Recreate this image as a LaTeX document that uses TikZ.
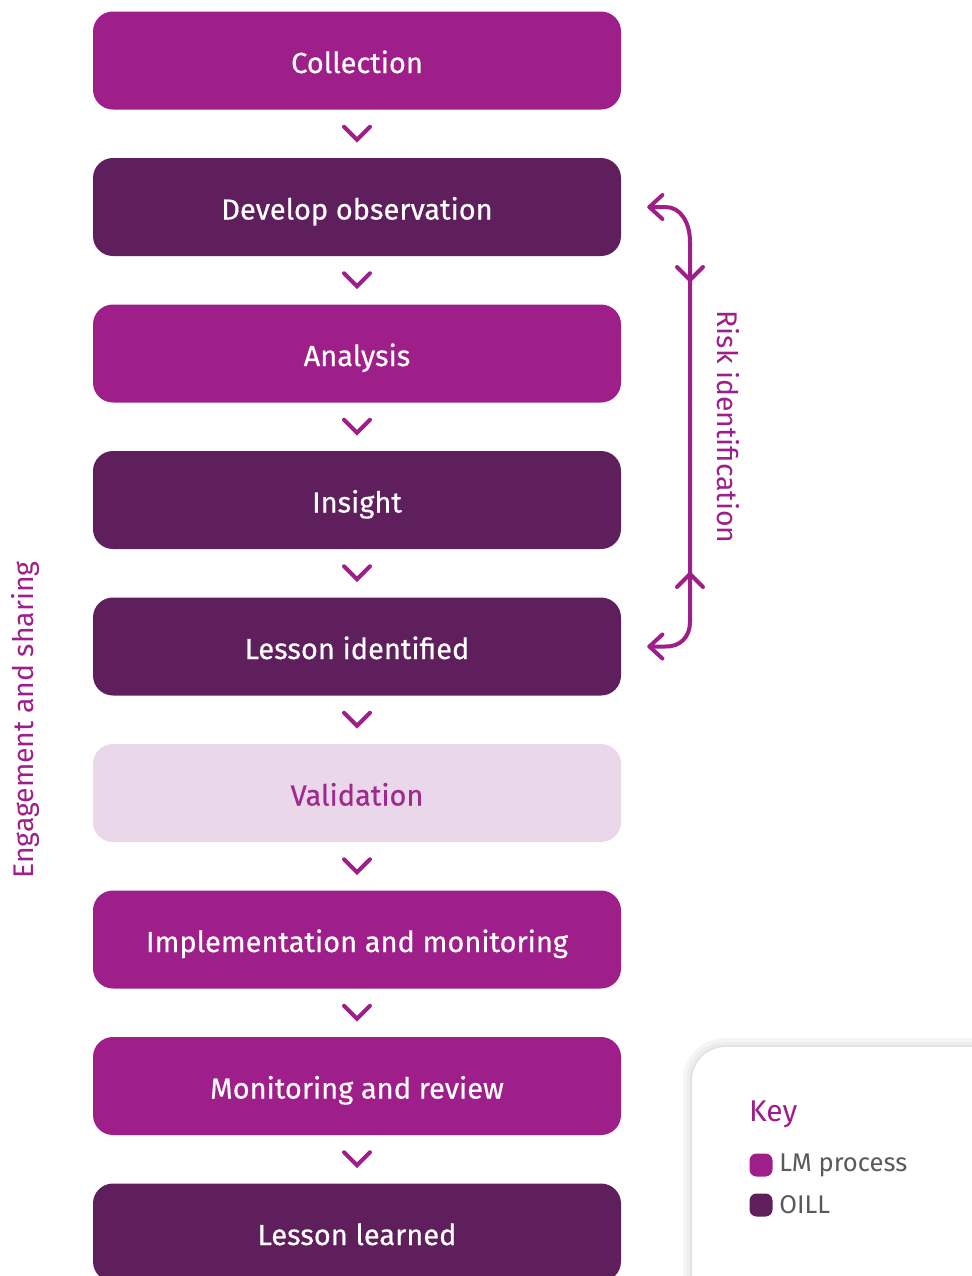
\documentclass[tikz,border=0pt]{standalone}
\usepackage{fontspec}
\setmainfont{Fira Sans}
\newfontfamily\boxfont[FakeBold=0.5]{Fira Sans}
\usetikzlibrary{calc}
\definecolor{lmproc}{HTML}{9E1F8A}
\definecolor{oill}{HTML}{5E1F5C}
\definecolor{valfill}{HTML}{EAD8EA}
\definecolor{valtext}{HTML}{9E2A8E}
\definecolor{keytext}{HTML}{5A5A5A}
\tikzset{
  stepbox/.style={rounded corners=10pt, minimum width=264pt, minimum height=49pt, inner sep=0pt,
    text height=12.5pt, text depth=0pt,
    font=\boxfont\fontsize{14.5}{16}\selectfont, text=white},
  lmbox/.style={stepbox, fill=lmproc},
  oillbox/.style={stepbox, fill=oill},
  valbox/.style={stepbox, fill=valfill, text=valtext},
  chev/.style={draw=lmproc, line width=2pt, line cap=round, line join=miter},
  risk/.style={draw=lmproc, line width=2pt, line cap=round, line join=round},
  sidelabel/.style={text=lmproc, font=\fontsize{14.2}{16}\selectfont},
}
\begin{document}
\begin{tikzpicture}[x=0.5pt,y=-0.5pt]
\useasboundingbox (0,0) rectangle (972,1276);
\clip (0,0) rectangle (972,1276);
\fill[white] (0,0) rectangle (972,1276);

\node[lmbox]   (b1) at (357,60.5)  {Collection};
\node[oillbox] (b2) at (357,207)   {Develop observation};
\node[lmbox]   (b3) at (357,353.5) {Analysis};
\node[oillbox] (b4) at (357,500)   {Insight};
\node[oillbox] (b5) at (357,646.5) {Lesson identified};
\node[valbox]  (b6) at (357,793)   {Validation};
\node[lmbox]   (b7) at (357,939.5) {Implementation and monitoring};
\node[lmbox]   (b8) at (357,1086)  {Monitoring and review};
\node[oillbox] (b9) at (357,1232.5){Lesson learned};

\foreach \a/\b in {b1/b2,b2/b3,b3/b4,b4/b5,b5/b6,b6/b7,b7/b8,b8/b9}{
  \draw[chev] ($(\a.south)!.5!(\b.north)$) ++(-13,-7) -- ++(13,13) -- ++(13,-13);
}

% risk identification bracket
\coordinate (rt) at ($(b2.east)+(28,0)$);
\coordinate (rb) at ($(b5.east)+(28,0)$);
\draw[risk] (rt) -- ++(16,0) .. controls ++(15,0) and (690,222) .. (690,242) -- (690,622)
  .. controls (690,637) and (680,647) .. ($(rb)+(16,0)$) -- (rb);
\draw[risk] ($(rt)+(13,-12)$) -- (rt) -- ($(rt)+(13,12)$);
\draw[risk] ($(rb)+(13,-12)$) -- (rb) -- ($(rb)+(13,12)$);
\draw[risk] (677,267) -- (690,280) -- (703,267);
\draw[risk] (677,587) -- (690,574) -- (703,587);
\node[sidelabel, rotate=-90] (risklbl) at (728,427) {Risk identification};

\node[sidelabel, rotate=90] (englbl) at (25,720) {Engagement and sharing};

% key
\fill[black!4, rounded corners=21pt] (683,1038) rectangle (1010,1320);
\fill[black!7, rounded corners=19pt] (687,1042) rectangle (1010,1320);
\fill[black!11, rounded corners=18pt] (690,1045) rectangle (1010,1320);
\fill[white, rounded corners=17pt] (692,1047) rectangle (1010,1320);
\node[anchor=west, text=lmproc, font=\fontsize{15}{16}\selectfont] (keyt) at (742,1114) {Key};
\node[fill=lmproc, rounded corners=3.5pt, minimum size=11.5pt, inner sep=0pt] (k1) at (761,1165) {};
\node[fill=oill, rounded corners=3.5pt, minimum size=11.5pt, inner sep=0pt] (k2) at (761,1205) {};
\node[anchor=west, text=keytext, font=\fontsize{12.8}{14}\selectfont, inner sep=0pt] (k1t) at (779,1165) {LM process};
\node[anchor=west, text=keytext, font=\fontsize{12.8}{14}\selectfont, inner sep=0pt] (k2t) at (779,1205) {OILL};
\end{tikzpicture}
\end{document}
